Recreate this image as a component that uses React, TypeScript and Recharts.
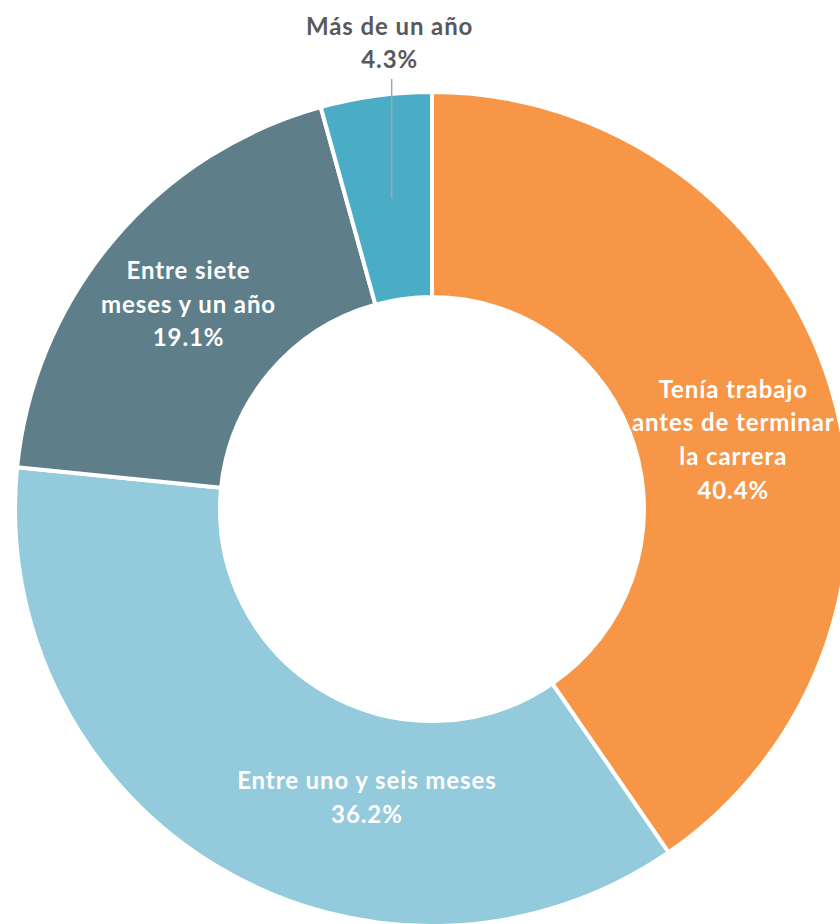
import React from 'react';
import { PieChart, Pie, Cell } from 'recharts';

const categories = [
  'Tenía trabajo antes de terminar la carrera',
  'Entre uno y seis meses',
  'Entre siete meses y un año',
  'Más de un año',
];
const values = [40.4, 36.2, 19.1, 4.3];
// how each label is broken into lines (Excel wrapping)
const labelLines = [
  ['Tenía trabajo', 'antes de terminar', 'la carrera'],
  ['Entre uno y seis meses'],
  ['Entre siete', 'meses y un año'],
  ['Más de un año'],
];
const colors = ['#F79646', '#93CBDC', '#5E7F8A', '#4BACC6'];

// nudges from the middle of the ring, as Excel placed them
const labelNudge = [
  [1, 23],
  [95, 17],
  [-3, -3],
  [0, 0],
];

const data = categories.map((name, i) => ({ name, value: values[i] }));

const FONT = 'Lato, "Open Sans", sans-serif';
const FONT_SIZE = 24;
const SPACING = 0.9;
const LINE_H = 33.7;
const RAD = Math.PI / 180;

const renderLabel = (props: any) => {
  const { cx, cy, midAngle, innerRadius, outerRadius, index, value } = props;
  const r = (innerRadius + outerRadius) / 2;
  const bx = cx + r * Math.cos(-midAngle * RAD);
  const by = cy + r * Math.sin(-midAngle * RAD);
  const lines = [...labelLines[index], `${value.toFixed(1)}%`];

  if (index === 3) {
    // small slice: label outside, straight leader line up
    const topY = cy - outerRadius - 34;
    return (
      <g>
        <line x1={bx + 2} y1={by + 1} x2={bx + 2} y2={cy - outerRadius - 13} stroke="#A6A6A6" strokeWidth={1.5} />
        {lines.map((t, k) => (
          <text
            key={k}
            x={bx}
            y={topY - (lines.length - 1 - k) * 33}
            textAnchor="middle"
            dominantBaseline="central"
            fill="#595959"
            fontFamily={FONT}
            fontWeight={700}
            fontSize={FONT_SIZE}
            letterSpacing={SPACING}
          >
            {t}
          </text>
        ))}
      </g>
    );
  }

  const x = bx + labelNudge[index][0];
  const y0 = by + labelNudge[index][1] - ((lines.length - 1) * LINE_H) / 2;
  return (
    <g>
      {lines.map((t, k) => (
        <text
          key={k}
          x={x}
          y={y0 + k * LINE_H}
          textAnchor="middle"
          dominantBaseline="central"
          fill="#FFFFFF"
          fontFamily={FONT}
          fontWeight={700}
          fontSize={FONT_SIZE}
          letterSpacing={SPACING}
        >
          {t}
        </text>
      ))}
    </g>
  );
};

export default function App() {
  return (
    <div style={{ width: 840, height: 924, background: '#fff' }}>
      <style>{'body{margin:0}'}</style>
      <PieChart width={840} height={924} margin={{ top: 0, right: 0, bottom: 0, left: 0 }}>
        <Pie
          data={data}
          dataKey="value"
          nameKey="name"
          cx={432}
          cy={509}
          innerRadius={212}
          outerRadius={417}
          startAngle={90}
          endAngle={-270}
          stroke="#FFFFFF"
          strokeWidth={4}
          label={renderLabel}
          labelLine={false}
          isAnimationActive={false}
        >
          {data.map((d, i) => (
            <Cell key={d.name} fill={colors[i]} />
          ))}
        </Pie>
      </PieChart>
    </div>
  );
}
